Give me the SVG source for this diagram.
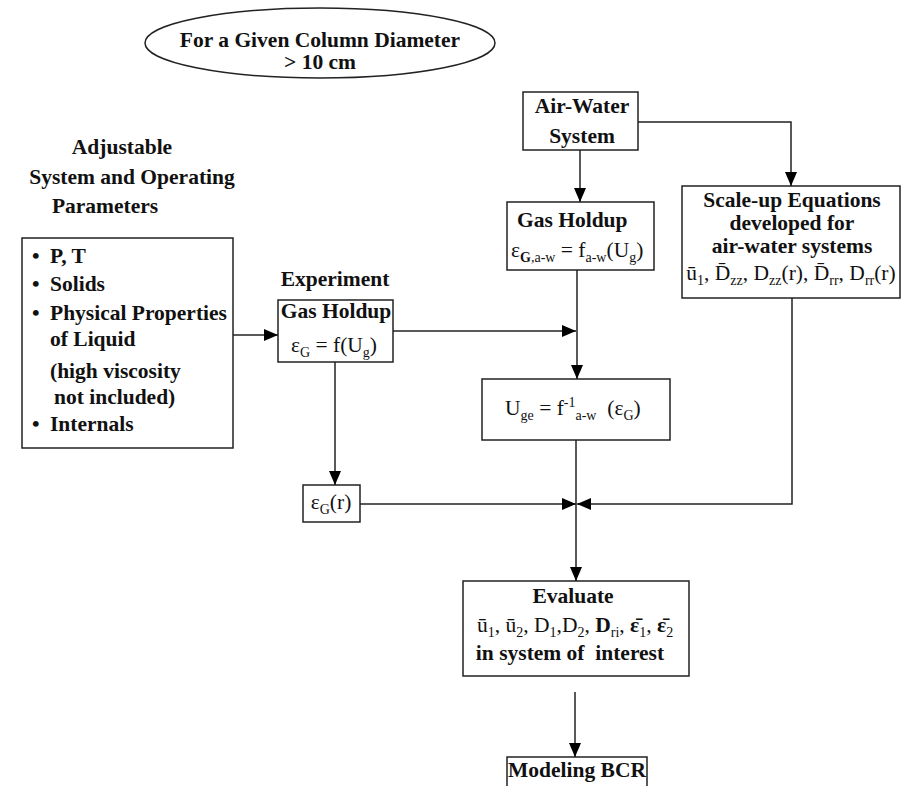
<svg xmlns="http://www.w3.org/2000/svg" width="902" height="786" viewBox="0 0 902 786">
<style>
.b{font-family:"Liberation Serif","Times New Roman",serif;font-weight:bold;font-size:21.5px;fill:#111}
.r{font-family:"Liberation Serif","Times New Roman",serif;font-size:21.5px;fill:#111}
.c{text-anchor:middle}
.box{fill:#fff;stroke:#222;stroke-width:1.5}
.ln{fill:none;stroke:#222;stroke-width:1.5}
.s{font-size:14px}
</style>
<defs>
<marker id="ah" markerUnits="userSpaceOnUse" markerWidth="14" markerHeight="12" refX="14" refY="6" orient="auto">
<path d="M0,0 L14,6 L0,12 Z" fill="#000"/>
</marker>
</defs>
<rect width="902" height="786" fill="#fff"/>
<g id="title">
<ellipse cx="320" cy="43" rx="175" ry="35" class="box"/>
<text x="320" y="47" class="b c">For a Given Column Diameter</text>
<text x="320" y="69" class="b c">&gt; 10 cm</text>
</g>
<g id="params-label">
<text x="122" y="154" class="b c" font-size="18">Adjustable</text>
<text x="132" y="184" class="b c">System and Operating</text>
<text x="105" y="213" class="b c">Parameters</text>
</g>
<g id="params">
<rect x="22" y="238" width="211" height="210" class="box"/>
<text class="b"><tspan x="32" y="263">•</tspan><tspan x="50">P, T</tspan></text>
<text class="b"><tspan x="32" y="291">•</tspan><tspan x="50">Solids</tspan></text>
<text class="b"><tspan x="32" y="320">•</tspan><tspan x="50">Physical Properties</tspan></text>
<text x="50" y="346" class="b">of Liquid</text>
<text x="50" y="378" class="b">(high viscosity</text>
<text x="54" y="404" class="b">not included)</text>
<text class="b"><tspan x="32" y="431">•</tspan><tspan x="50">Internals</tspan></text>
</g>
<g id="experiment">
<text x="335" y="286" class="b c">Experiment</text>
<rect x="278" y="300" width="115" height="62" class="box"/>
<text x="336" y="318" class="b c">Gas Holdup</text>
<text x="334" y="352" class="r c">ε<tspan class="s" dy="5">G</tspan><tspan dy="-5"> = f(U</tspan><tspan class="s" dy="5">g</tspan><tspan dy="-5">)</tspan></text>
</g>
<g id="airwater">
<rect x="523" y="92" width="115" height="58" class="box"/>
<text x="582" y="113" class="b c">Air-Water</text>
<text x="582" y="143" class="b c">System</text>
</g>
<g id="gasholdup-aw">
<rect x="507" y="202" width="147" height="68" class="box"/>
<text x="517" y="227" class="b">Gas Holdup</text>
<text x="511" y="257" class="r">ε<tspan class="s" dy="5" font-weight="bold">G</tspan><tspan class="s" dy="0">,a-w</tspan><tspan dy="-5"> = f</tspan><tspan class="s" dy="5">a-w</tspan><tspan dy="-5">(U</tspan><tspan class="s" dy="5">g</tspan><tspan dy="-5">)</tspan></text>
</g>
<g id="scaleup">
<rect x="682" y="186" width="218" height="112" class="box"/>
<text x="792" y="207" class="b c">Scale-up Equations</text>
<text x="792" y="230" class="b c">developed for</text>
<text x="792" y="253" class="b c">air-water systems</text>
<text x="791" y="280" class="r c">ū<tspan class="s" dy="5">1</tspan><tspan dy="-5">, D̄</tspan><tspan class="s" dy="5">zz</tspan><tspan dy="-5">, D</tspan><tspan class="s" dy="5">zz</tspan><tspan dy="-5">(r), D̄</tspan><tspan class="s" dy="5">rr</tspan><tspan dy="-5">, D</tspan><tspan class="s" dy="5">rr</tspan><tspan dy="-5">(r)</tspan></text>
</g>
<g id="uge">
<rect x="482" y="379" width="188" height="61" class="box"/>
<text x="505" y="415" class="r" xml:space="preserve">U<tspan class="s" dy="5">ge</tspan><tspan dy="-5"> = f</tspan><tspan class="s" dy="-8">-1</tspan><tspan class="s" dy="13">a-w</tspan><tspan dy="-5">  (ε</tspan><tspan class="s" dy="5">G</tspan><tspan dy="-5">)</tspan></text>
</g>
<g id="epsr">
<rect x="303" y="485" width="57" height="37" class="box"/>
<text x="331" y="509" class="r c">ε<tspan class="s" dy="5">G</tspan><tspan dy="-5">(r)</tspan></text>
</g>
<g id="evaluate">
<rect x="463" y="581" width="226" height="95" class="box"/>
<text x="573" y="603" class="b c">Evaluate</text>
<text x="477" y="632" class="r">ū<tspan class="s" dy="5">1</tspan><tspan dy="-5">, ū</tspan><tspan class="s" dy="5">2</tspan><tspan dy="-5">, D</tspan><tspan class="s" dy="5">1</tspan><tspan dy="-5">,D</tspan><tspan class="s" dy="5">2</tspan><tspan dy="-5">, </tspan><tspan font-weight="bold">D</tspan><tspan class="s" dy="5">ri</tspan><tspan dy="-5">, </tspan><tspan font-weight="bold">ε̄</tspan><tspan class="s" dy="5">1</tspan><tspan dy="-5">, </tspan><tspan font-weight="bold">ε̄</tspan><tspan class="s" dy="5">2</tspan></text>
<text x="570" y="660" class="b c" xml:space="preserve">in system of  interest</text>
</g>
<g id="modeling">
<rect x="507" y="757" width="140" height="32" class="box"/>
<text x="577" y="777" class="b c">Modeling BCR</text>
</g>
<g id="connectors">
<path d="M233,335 H278" class="ln" marker-end="url(#ah)"/>
<path d="M580,150 V202" class="ln" marker-end="url(#ah)"/>
<path d="M638,122 H791 V186" class="ln" marker-end="url(#ah)"/>
<path d="M393,331 H576" class="ln" marker-end="url(#ah)"/>
<path d="M577,270 V379" class="ln" marker-end="url(#ah)"/>
<path d="M335,362 V485" class="ln" marker-end="url(#ah)"/>
<path d="M360,504 H576" class="ln" marker-end="url(#ah)"/>
<path d="M792,298 V504 H577" class="ln" marker-end="url(#ah)"/>
<path d="M576,440 V581" class="ln" marker-end="url(#ah)"/>
<path d="M575,692 V757" class="ln" marker-end="url(#ah)"/>
</g>
</svg>
